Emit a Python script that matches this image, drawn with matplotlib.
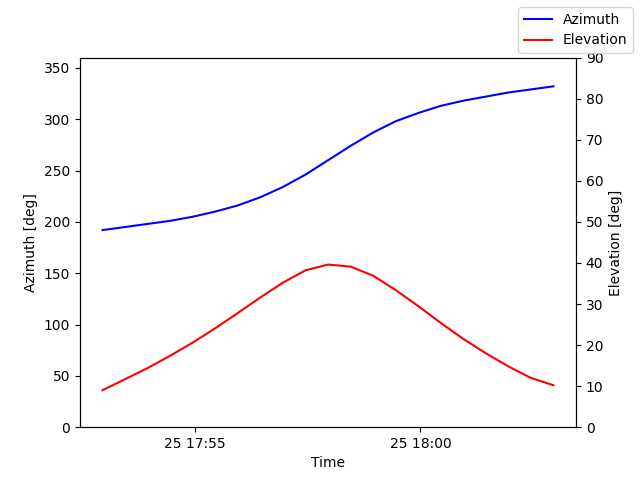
import pandas as pd
import matplotlib
matplotlib.use("Agg")
import matplotlib.pyplot as plt
import matplotlib.dates as mdates

times = pd.date_range("2024-01-25 17:52:57", periods=21, freq="30s")
azimuth = [192, 195, 198, 201, 205, 210, 216, 224, 234, 246, 260,
           274, 287, 298, 306, 313, 318, 322, 326, 329, 332]
elevation = [9.0, 11.7, 14.4, 17.4, 20.6, 24.1, 27.8, 31.6, 35.2, 38.2, 39.6,
             39.1, 36.9, 33.4, 29.5, 25.4, 21.5, 18.0, 14.8, 12.0, 10.2]

fig, ax = plt.subplots(figsize=(6.4, 4.8), dpi=100)
ax.plot(times, azimuth, color="blue", label="Azimuth")
ax.set_ylim(0, 360)
ax.set_ylabel("Azimuth [deg]")
ax.set_xlabel("Time")
ax.xaxis.set_major_locator(mdates.MinuteLocator(byminute=range(0, 60, 5)))
ax.xaxis.set_major_formatter(mdates.DateFormatter("%d %H:%M"))

ax2 = ax.twinx()
ax2.plot(times, elevation, color="red", label="Elevation")
ax2.set_ylim(0, 90)
ax2.set_ylabel("Elevation [deg]")

fig.legend(loc="upper right")
fig.savefig("out.png")
